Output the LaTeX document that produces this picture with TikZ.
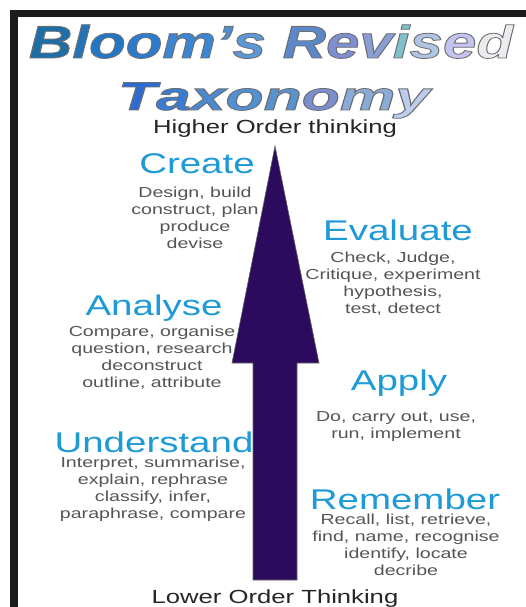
\documentclass[tikz,border=0pt]{standalone}
\usepackage{fontspec}
\setmainfont{Liberation Sans}
\newfontfamily\wide{Liberation Sans}[FakeStretch=1.35]
\usepackage{graphicx}
\definecolor{head}{HTML}{1E9AD6}
\definecolor{desc}{HTML}{555555}
\definecolor{arrowc}{HTML}{2C0A5E}
\definecolor{framec}{HTML}{1C1C1C}
\definecolor{tB}{HTML}{1E6EA8}
\definecolor{tl}{HTML}{2472B8}
\definecolor{toA}{HTML}{2276C8}
\definecolor{toB}{HTML}{2A7CD0}
\definecolor{tm}{HTML}{3A86D4}
\definecolor{tap}{HTML}{4C90D8}
\definecolor{ts}{HTML}{5C98D8}
\definecolor{tR}{HTML}{5A88C8}
\definecolor{te}{HTML}{7E8ED0}
\definecolor{tv}{HTML}{8A9ED4}
\definecolor{ti}{HTML}{7EC0CC}
\definecolor{tsB}{HTML}{B0C4E4}
\definecolor{teB}{HTML}{C4C4F0}
\definecolor{td}{HTML}{ECECF0}
\definecolor{xT}{HTML}{2C6CD0}
\definecolor{xa}{HTML}{3A7CD4}
\definecolor{xx}{HTML}{4A8AD4}
\definecolor{xo}{HTML}{5090D4}
\definecolor{xn}{HTML}{5A92D0}
\definecolor{xoB}{HTML}{7A8ED0}
\definecolor{xm}{HTML}{8AAAD8}
\definecolor{xy}{HTML}{BCCCEC}
% letter filled in colour #1 and outlined in grey
\newcommand\lc[2]{\textcolor{#1}{\special{pdf:literal direct 0.43 0.43 0.43 RG 0.8 w 2 Tr}#2\special{pdf:literal direct 0 Tr}}}
\newcommand\titleA{\scalebox{1.306}[1]{\lc{tB}{B}\lc{tl}{l}\lc{toA}{o}\lc{toB}{o}\lc{tm}{m}\lc{tap}{’}\lc{ts}{s} \lc{tR}{R}\lc{te}{e}\lc{tv}{v}\lc{ti}{i}\lc{tsB}{s}\lc{teB}{e}\lc{td}{d}}}
\newcommand\titleB{\scalebox{1.56}[1]{\lc{xT}{T}\lc{xa}{a}\lc{xx}{x}\lc{xo}{o}\lc{xn}{n}\lc{xoB}{o}\lc{xm}{m}\lc{xy}{y}}}
\tikzset{
  heading/.style={anchor=base, inner sep=0pt, text=head, font=\wide\fontsize{28.5}{30}\selectfont},
  desc/.style={anchor=base, inner sep=0pt, align=center, text=desc, font=\wide\fontsize{14.5}{16.7}\selectfont},
  level/.style={anchor=base, inner sep=0pt, text=black!85, font=\wide\fontsize{19}{20}\selectfont},
  ttlA/.style={anchor=base, inner sep=0pt, font=\fontsize{46}{46}\selectfont\bfseries\itshape},
  ttlB/.style={anchor=base, inner sep=0pt, font=\fontsize{40}{40}\selectfont\bfseries\itshape},
  bigarrow/.style={fill=arrowc, draw=black!60, line width=0.6pt, line join=miter}
}
\begin{document}
\begin{tikzpicture}[x=1pt, y=-1pt]
\useasboundingbox (0,0) rectangle (526,607);
\fill[white] (0,0) rectangle (526,607);
% frame
\fill[framec] (10,10) rectangle (526,17);
\fill[framec] (10,10) rectangle (18,607);
% title
\node[ttlA] (title1) at (271,58) {\titleA};
\node[ttlB] (title2) at (274,110) {\titleB};
% arrow
\draw[bigarrow] (275,146) -- (319,363) -- (297,363) -- (297,580) -- (253,580) -- (253,363) -- (232,363) -- cycle;
% levels
\node[level] (high) at (275,133) {Higher Order thinking};
\node[level] (low) at (275,603) {Lower Order Thinking};
% headings (descriptions anchored at the baseline of their last line)
\node[heading] (create) at (197,173) {Create};
\node[desc] (createD) at (195,248) {Design, build\\construct, plan\\produce\\devise};
\node[heading] (analyse) at (154,315) {Analyse};
\node[desc] (analyseD) at (152,387) {Compare, organise\\question, research\\deconstruct\\outline, attribute};
\node[heading] (evaluate) at (398,240) {Evaluate};
\node[desc] (evaluateD) at (393,313) {Check, Judge,\\Critique, experiment\\hypothesis,\\test, detect};
\node[heading] (apply) at (399,390) {Apply};
\node[desc] (applyD) at (396,438) {Do, carry out, use,\\run, implement};
\node[heading] (understand) at (154,452) {Understand};
\node[desc] (understandD) at (153,518) {Interpret, summarise,\\explain, rephrase\\classify, infer,\\paraphrase, compare};
\node[heading] (remember) at (405,509) {Remember};
\node[desc] (rememberD) at (406,575) {Recall, list, retrieve,\\find, name, recognise\\identify, locate\\decribe};
\end{tikzpicture}
\end{document}
